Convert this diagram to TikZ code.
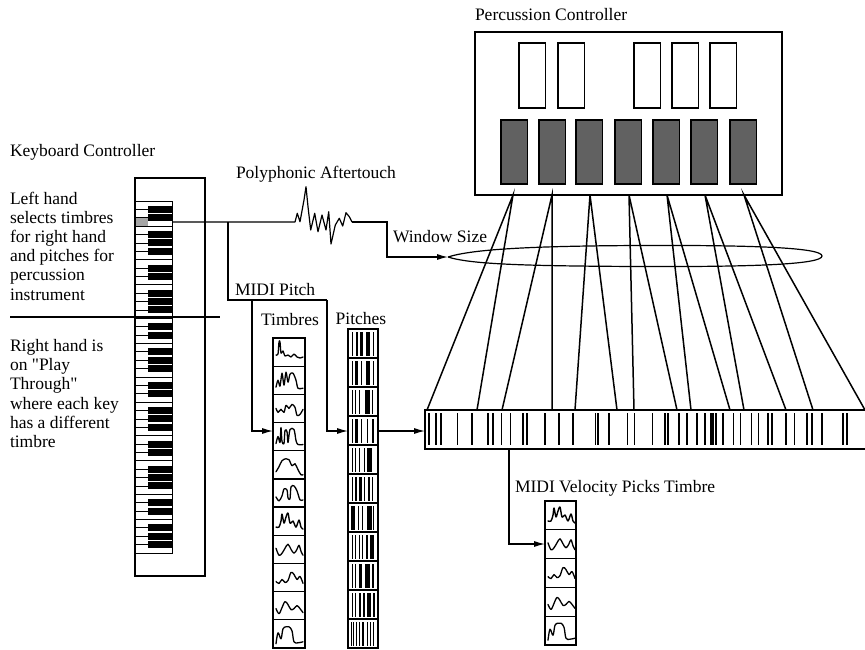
\documentclass[tikz,border=0pt]{standalone}
\usepackage{fontspec}
\setmainfont{Liberation Serif}
\usetikzlibrary{arrows.meta,calc}
\tikzset{
  wvA/.pic={\draw[wave] plot[smooth,tension=0.5] coordinates {(3,17)(5,16)(6,4)(7,4)(8,15)(10,13)(12,18)(15,17)(18,19)(21,16)(24,19)(27,20)(30,19)};},
  wvB/.pic={\draw[wave] plot[smooth,tension=0.5] coordinates {(3,21)(5,14)(7,20)(9,7)(11,19)(13,6)(15,16)(17,8)(20,7)(23,14)(25,22)(30,22)};},
  wvC/.pic={\draw[wave] plot[smooth,tension=0.5] coordinates {(3,14)(5,18)(8,15)(11,18)(13,11)(16,14)(19,10)(22,13)(24,21)(27,20)(30,15)};},
  wvD/.pic={\draw[wave] plot[smooth,tension=0.5] coordinates {(3,21)(5,14)(7,20)(8,5)(9,19)(11,21)(12,8)(14,9)(15,20)(17,7)(21,7)(23,18)(25,22)(30,22)};},
  wvE/.pic={\draw[wave] plot[smooth,tension=0.6] coordinates {(3,21)(6,16)(9,10)(13,8)(16,9)(19,15)(22,13)(25,19)(28,24)(30,24)};},
  wvF/.pic={\draw[wave] plot[smooth,tension=0.5] coordinates {(3,18)(6,22)(9,17)(11,10)(14,11)(15,19)(17,20)(18,8)(21,7)(24,12)(27,21)(30,21)};},
  wvG/.pic={\draw[wave,line width=1.4pt] plot[smooth,tension=0.5] coordinates {(3,20)(6,20)(8,14)(9,7)(11,16)(13,10)(15,6)(17,16)(20,14)(23,20)(26,13)(28,20)(30,22)};},
  wvH/.pic={\draw[wave] plot[smooth,tension=0.6] coordinates {(3,13)(6,20)(9,18)(12,13)(15,9)(18,14)(21,18)(24,14)(26,10)(28,16)(30,20)};},
  wvI/.pic={\draw[wave] plot[smooth,tension=0.6] coordinates {(3,18)(6,20)(9,16)(12,19)(15,17)(18,9)(21,11)(24,16)(27,13)(30,20)};},
  wvJ/.pic={\draw[wave] plot[smooth,tension=0.6] coordinates {(3,17)(6,22)(9,16)(12,10)(15,13)(18,18)(21,17)(24,14)(27,17)(30,21)};},
  wvK/.pic={\draw[wave] plot[smooth,tension=0.6] coordinates {(3,24)(5,13)(8,19)(10,9)(13,7)(16,7)(19,11)(21,22)(25,23)(30,22)};},
}
\begin{document}
\begin{tikzpicture}[x=1pt,y=-1pt,
  every node/.style={font=\fontsize{17.5}{19.2}\selectfont, inner sep=0pt, outer sep=0pt},
  ln/.style={line width=1.2pt},
  box/.style={draw, line width=1.2pt, anchor=north west},
  arr/.style={line width=1.2pt, -{Latex[length=11pt,width=6pt]}},
  fan/.style={line width=1.5pt},
  wave/.style={line width=1.3pt, line join=round, line cap=round},
  lbl/.style={anchor=west, align=left},
  pad/.style={draw, line width=1.1pt, fill=black!62, anchor=north west, minimum width=26.5pt, minimum height=64pt},
  wpad/.style={draw, line width=1.1pt, anchor=north west, minimum width=26.5pt, minimum height=65pt},
]
\useasboundingbox (0,0) rectangle (865,649);

% ---------- texts ----------
\node[lbl] (tkc) at (10,152) {Keyboard Controller};
\node[lbl] (tlh) at (10,246) {Left hand\\selects timbres\\for right hand\\and pitches for\\percussion\\instrument};
\node[lbl] (trh) at (10,393.5) {Right hand is\\on \textquotedbl Play\\Through\textquotedbl\\where each key\\has a different\\timbre};
\node[lbl] (tpa) at (236,174) {Polyphonic Aftertouch};
\node[lbl] (tws) at (393,237) {Window Size};
\node[lbl] (tmp) at (235,290) {MIDI Pitch};
\node (tti) at (290,320) {Timbres};
\node (tpi) at (361,319) {Pitches};
\node[lbl] (tvel) at (515,488) {MIDI Velocity Picks Timbre};
\node[lbl] (tpc) at (475,15) {Percussion Controller};

% ---------- keyboard ----------
\node[box, minimum width=70pt, minimum height=398pt] (kbd) at (135,178) {};
\node[box, line width=1pt, minimum width=37pt, minimum height=352pt] (keys) at (135,201) {};
\fill[black!35] (136,218) rectangle (148,226);
\foreach \j in {1,...,41} {
  \pgfmathsetmacro\yy{201+\j*352/42}
  \draw[line width=0.8pt] (135,\yy) -- (172,\yy);
  \pgfmathtruncatemacro\m{mod(\j,7)}
  \ifnum\m=0 \else \ifnum\m=3 \else
    \fill (148,\yy-3.5) rectangle (172,\yy+3.5);
  \fi\fi
}
\draw[line width=1.4pt] (10,317) -- (220,317);

% ---------- percussion controller ----------
\node[box, minimum width=307pt, minimum height=163pt] (perc) at (475,32) {};
\foreach \x/\n in {519/1,558/2,634/3,672/4,710/5}
  \node[wpad] (w\n) at (\x,43) {};
\foreach \x/\n in {501/1,539/2,576/3,615/4,653/5,691/6,730/7}
  \node[pad] (p\n) at (\x,120) {};

% ---------- strip ----------
\node[anchor=north west, minimum width=440pt, minimum height=39pt] (strip) at (425,410) {};
\draw[ln] (865,410) -- (425,410) -- (425,449) -- (865,449);
\foreach \x/\w in {429/2,436/1.5,441/1.5,457/1,472/2,488/1.5,493/2,501/1,510/0.8,523/2,527/1.5,545/2,559/2,573/1.5,595/1,598/1.5,609/2,627/1,634/1,652/1,665/2,668/1.5,679/2,687/2,697/2,705/2,711/1.5,713/1.5,716/1.5,723/1.5,733/1,740/1,751/1,758/1,768/2,772/2,786/2,794/1,807/2,812/1.5,822/2,843/1.5,847/1.5}
  \fill (\x-\w/2,413) rectangle ++(\w,32);

% ---------- fan lines ----------
\foreach \t/\a/\b in {513/427/477, 552/502/552, 590/575/617, 629/634/677, 667/691/730, 705/744/786, 744/813/865}
  \draw[fan] (\a,410) -- (\t,195) -- (\b,410);

% ---------- window ellipse ----------
\coordinate (ws) at (448,257);
\draw[line width=1.2pt] (ws) .. controls (470,250) and (520,246) .. (640,245.5)
  .. controls (760,245) and (822,248) .. (822,256)
  .. controls (822,264) and (760,267) .. (640,266.5)
  .. controls (520,266) and (470,264) .. (ws);

% ---------- timbres column ----------
\node[box, minimum width=32pt, minimum height=310pt] (timb) at (273,338) {};
\foreach \i in {1,...,10} \draw[ln] (273,338+\i*28.18) -- (305,338+\i*28.18);
\foreach \p [count=\i from 0] in {wvA,wvB,wvC,wvD,wvE,wvF,wvG,wvH,wvI,wvJ,wvK}
  \pic at (273,338+\i*28.18) {\p};

% ---------- pitches column ----------
\node[box, minimum width=30pt, minimum height=319pt] (pitch) at (348,329) {};
\foreach \i in {1,...,10} \draw[ln] (348,329+\i*29) -- (378,329+\i*29);
\foreach \c/\bars in {
  0/{4/1,8/1.5,12/2.5,18/4,25/1},
  1/{4/1,7/3,13/1,18/4,25/1},
  2/{4/1,7/1,11/1,17/5,24/1},
  3/{4/1,7/3,13/1,19/1,24/2},
  4/{4/1,7/1,11/1,16/1,19/5},
  5/{4/1,7/1.5,11/3,16/1,20/2,24/1},
  6/{3/4,10/1,14/1,19/5,25/1},
  7/{4/1,7/1,11/1,14/1,18/2,22/4},
  8/{4/1,7/1,11/3,17/5,24/1.5},
  9/{4/1,7/1,11/2,15/2,19/4,25/1.5},
  10/{3/1,5/1,8/1,11/1,14/2,19/1,22/1,25/1}}
  \foreach \bx/\bw in \bars
    \fill (348+\bx,329+\c*29+2.5) rectangle ++(\bw,24);

% ---------- velocity column ----------
\node[box, minimum width=31pt, minimum height=144pt] (vel) at (545,501) {};
\foreach \i in {1,...,4} \draw[ln] (545,501+\i*28.8) -- (576,501+\i*28.8);
\foreach \p [count=\i from 0] in {wvG,wvH,wvI,wvJ,wvK}
  \pic at (545,501+\i*28.8) {\p};

% ---------- connectors ----------
\coordinate (kout) at (172,222);
\coordinate (j1) at (228,222);
\coordinate (z0) at (295,222);
\coordinate (z1) at (352,222);
\draw[ln, line join=round] (kout) -- (z0) -- (297.3,213.3) -- (300,221.7) -- (304,200) -- (306,186.7)
  -- (308,206.7) -- (310.7,230) -- (314.7,213.3) -- (318,231.7) -- (322,215) -- (326,230)
  -- (328.7,211.7) -- (331,244) -- (335.3,225) -- (339.3,218.3) -- (342.7,226) -- (346,212.7)
  -- (349.3,216.7) -- (z1);
\draw[arr] (z1) -- (387,222) |- (ws);

\coordinate (mp) at (228,300);
\coordinate (mt) at (252,300);
\coordinate (mq) at (327,300);
\coordinate (ta) at (273,431);
\coordinate (pa) at (348,431);
\draw[ln] (j1) -- (mp) -- (mq);
\draw[arr] (mt) |- (ta);
\draw[arr] (mq) |- (pa);

\coordinate (pout) at (378,431);
\coordinate (sin) at (425,431);
\draw[arr] (pout) -- (sin);

\coordinate (sv) at (509,449);
\coordinate (va) at (545,544);
\draw[arr] (sv) |- (va);
\end{tikzpicture}
\end{document}
